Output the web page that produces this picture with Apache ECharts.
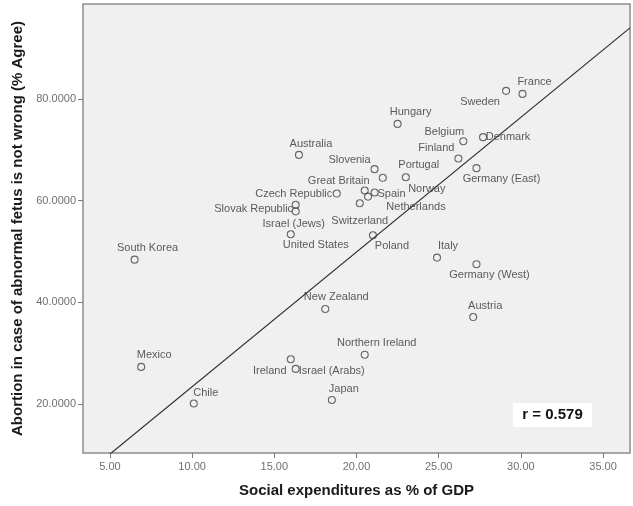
<!DOCTYPE html>
<html>
<head>
<meta charset="utf-8">
<script src="https://cdn.jsdelivr.net/npm/echarts@6/dist/echarts.min.js"></script>
<style>
  html, body { margin: 0; padding: 0; background: #ffffff; }
  #chart { width: 633px; height: 506px; }
</style>
</head>
<body>
<div id="chart"></div>
<script>
// Countries and their values: social expenditures (% of GDP) vs. share agreeing
// that abortion in case of an abnormal fetus is not wrong.
const countries = [
  'France', 'Sweden', 'Hungary', 'Belgium', 'Denmark', 'Finland', 'Germany (East)',
  'Portugal', 'Norway', 'Slovenia', 'Australia', 'Great Britain', 'Spain', 'Netherlands',
  'Switzerland', 'Czech Republic', 'Slovak Republic', 'Israel (Jews)', 'United States',
  'Poland', 'South Korea', 'Italy', 'Germany (West)', 'New Zealand', 'Austria',
  'Northern Ireland', 'Mexico', 'Ireland', 'Israel (Arabs)', 'Chile', 'Japan'
];
const socialExpenditures = [
  30.1, 29.1, 22.5, 26.5, 27.7, 26.2, 27.3,
  23.0, 21.6, 21.1, 16.5, 20.5, 21.1, 20.7,
  20.2, 18.8, 16.3, 16.3, 16.0,
  21.0, 6.5, 24.9, 27.3, 18.1, 27.1,
  20.5, 6.9, 16.0, 16.3, 10.1, 18.5
];
const abortionAgree = [
  81.0, 81.6, 75.1, 71.7, 72.5, 68.3, 66.4,
  64.6, 64.5, 66.2, 69.0, 62.0, 61.6, 60.8,
  59.5, 61.4, 59.2, 57.9, 53.4,
  53.2, 48.4, 48.8, 47.5, 38.7, 37.1,
  29.7, 27.3, 28.8, 26.9, 20.1, 20.8
];

// Fitted line (total) and its correlation coefficient
const fitIntercept = -3.1;
const fitSlope = 2.65;
const correlation = 0.579;

// Axis ranges and tick values
const xRange = [3.36, 36.64];
const yRange = [10.36, 98.69];
const xTicks = [5, 10, 15, 20, 25, 30, 35];
const yTicks = [20, 40, 60, 80];

// Label placement around each marker (pixels, relative to the marker centre)
const labelOffsets = {
  'France': [12, -12], 'Sweden': [-26, 11], 'Hungary': [13, -12], 'Belgium': [-19, -9],
  'Denmark': [25, 0], 'Finland': [-22, -11], 'Germany (East)': [25, 11],
  'Portugal': [13, -12], 'Norway': [44, 11], 'Slovenia': [-25, -9], 'Australia': [12, -11],
  'Great Britain': [-26, -10], 'Spain': [17, 1], 'Netherlands': [48, 10],
  'Switzerland': [0, 18], 'Czech Republic': [-43, 0], 'Slovak Republic': [-42, 4],
  'Israel (Jews)': [-2, 13], 'United States': [25, 11], 'Poland': [19, 11],
  'South Korea': [13, -12], 'Italy': [11, -12], 'Germany (West)': [13, 11],
  'New Zealand': [11, -12], 'Austria': [12, -11], 'Northern Ireland': [12, -12],
  'Mexico': [13, -12], 'Ireland': [-21, 12], 'Israel (Arabs)': [36, 2],
  'Chile': [12, -11], 'Japan': [12, -11]
};

const points = countries.map((name, i) => ({
  name: name,
  value: [socialExpenditures[i], abortionAgree[i]],
  label: { offset: labelOffsets[name] || [0, -11] }
}));

const fitLine = xRange.map(x => [x, fitIntercept + fitSlope * x]);

const chart = echarts.init(document.getElementById('chart'), null, { renderer: 'canvas' });

const axisFont = 'Liberation Sans, Arial, sans-serif';

chart.setOption({
  animation: false,
  backgroundColor: '#ffffff',
  grid: {
    left: 83, top: 4, width: 547, height: 449,
    show: true,
    backgroundColor: '#f0f0f0',
    borderColor: '#8c8c8c',
    borderWidth: 1.5
  },
  xAxis: {
    type: 'value',
    min: xRange[0], max: xRange[1],
    name: 'Social expenditures as % of GDP',
    nameLocation: 'middle',
    nameGap: 30,
    nameTextStyle: { fontFamily: axisFont, fontWeight: 'bold', fontSize: 15, color: '#1a1a1a' },
    splitLine: { show: false },
    axisLine: { show: false },
    axisTick: { show: true, inside: false, length: 5, customValues: xTicks, lineStyle: { color: '#7a7a7a', width: 1 } },
    axisLabel: {
      customValues: xTicks, margin: 8,
      fontFamily: axisFont, fontSize: 11, color: '#707070',
      formatter: v => v.toFixed(2)
    }
  },
  yAxis: {
    type: 'value',
    min: yRange[0], max: yRange[1],
    name: 'Abortion in case of abnormal fetus is not wrong (% Agree)',
    nameLocation: 'middle',
    nameGap: 58,
    nameRotate: 90,
    nameTextStyle: { fontFamily: axisFont, fontWeight: 'bold', fontSize: 15, color: '#1a1a1a' },
    splitLine: { show: false },
    axisLine: { show: false },
    axisTick: { show: true, inside: false, length: 5, customValues: yTicks, lineStyle: { color: '#7a7a7a', width: 1 } },
    axisLabel: {
      customValues: yTicks, margin: 7,
      fontFamily: axisFont, fontSize: 11, color: '#707070',
      formatter: v => v.toFixed(4)
    }
  },
  series: [
    {
      type: 'line',
      data: fitLine,
      symbol: 'none',
      clip: true,
      silent: true,
      lineStyle: { color: '#2e2e2e', width: 1.2 },
      z: 2
    },
    {
      type: 'scatter',
      data: points,
      symbol: 'circle',
      symbolSize: 7,
      itemStyle: { color: 'rgba(0,0,0,0)', borderColor: '#444444', borderWidth: 1.1 },
      label: {
        show: true,
        position: 'inside',
        formatter: p => p.name,
        fontFamily: axisFont,
        fontSize: 11,
        color: '#333333'
      },
      z: 3
    }
  ],
  graphic: [
    {
      type: 'group',
      right: 41,
      bottom: 79,
      children: [
        { type: 'rect', shape: { x: 0, y: 0, width: 79, height: 24 }, style: { fill: '#ffffff' } },
        {
          type: 'text', x: 39.5, y: 12,
          style: {
            text: 'r = ' + correlation.toFixed(3),
            font: 'bold 15px ' + axisFont,
            fill: '#111111',
            align: 'center', verticalAlign: 'middle'
          }
        }
      ]
    }
  ]
});
</script>
</body>
</html>
